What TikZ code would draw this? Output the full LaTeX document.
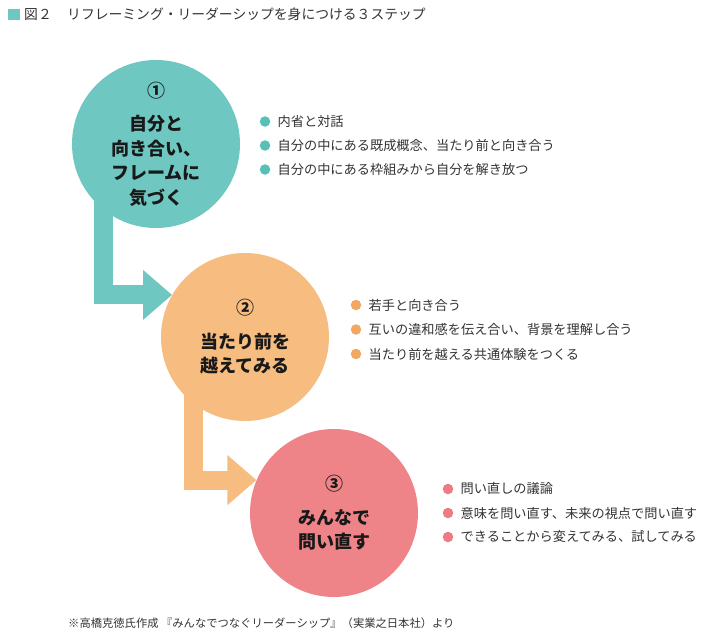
\documentclass[tikz,border=0pt]{standalone}
\usepackage{fontspec}
\setmainfont{Noto Sans CJK JP}
\usetikzlibrary{calc, positioning}
\usetikzlibrary{arrows.meta}

\definecolor{tealc}{HTML}{6FC7C2}
\definecolor{orangec}{HTML}{F6BC80}
\definecolor{pinkc}{HTML}{EF8488}
\definecolor{tealdot}{HTML}{58BFB7}
\definecolor{orangedot}{HTML}{F2A862}
\definecolor{pinkdot}{HTML}{EC7C82}
\definecolor{inkc}{HTML}{333333}

\begin{document}
\begin{tikzpicture}[x=1pt, y=-1pt,
  stepcircle/.style={circle, minimum size=168pt, inner sep=0pt, align=center,
    font=\fontsize{18}{24.5}\selectfont\bfseries, text=black!90},
  steparrow/.style={line width=19pt, -{Triangle[length=29pt, width=48pt]}},
  bulletdot/.style={circle, minimum size=10.5pt, inner sep=0pt},
  itemtext/.style={anchor=west, inner sep=0pt, font=\fontsize{13.2}{15}\selectfont, text=inkc}]
\useasboundingbox (0,0) rectangle (710,634);

% title
\fill[tealc] (8,9) rectangle (20,20);
\node[anchor=west, inner sep=0pt, font=\fontsize{13.8}{15}\selectfont, text=inkc] (fig) at (24,14.5) {図２};
\node[anchor=west, inner sep=0pt, font=\fontsize{13.8}{15}\selectfont, text=inkc] (title) at (67,14.5) {リフレーミング・リーダーシップを身につける３ステップ};

% connectors first, circles on top
\coordinate (s1) at (103.5,150);
\coordinate (s2) at (193.5,340);
\node[stepcircle] (c2) at (245,337) {};
\node[stepcircle] (c3) at (334,513) {};
\draw[steparrow, tealc] (s1) |- (c2.150);
\draw[steparrow, orangec] (s2) |- (c3.157);

\node[stepcircle, fill=tealc] (c1) at (156,144) {①\\[9pt]自分と\\向き合い、\\フレームに\\気づく};
\node[stepcircle, fill=orangec] at (c2) {②\\[9pt]当たり前を\\越えてみる};
\node[stepcircle, fill=pinkc] at (c3) {③\\[9pt]みんなで\\問い直す};

% bullet lists
\foreach \txt [count=\i] in {内省と対話, 自分の中にある既成概念、当たり前と向き合う, 自分の中にある枠組みから自分を解き放つ}{
  \node[bulletdot, fill=tealdot] (da\i) at (265,97.5+24*\i) {};
  \node[itemtext, right=7pt of da\i] (ta\i) {\txt};
}
\foreach \txt [count=\i] in {若手と向き合う, 互いの違和感を伝え合い、背景を理解し合う, 当たり前を越える共通体験をつくる}{
  \node[bulletdot, fill=orangedot] (db\i) at (356,280.5+24.5*\i) {};
  \node[itemtext, right=7pt of db\i] (tb\i) {\txt};
}
\foreach \txt [count=\i] in {問い直しの議論, 意味を問い直す、未来の視点で問い直す, できることから変えてみる、試してみる}{
  \node[bulletdot, fill=pinkdot] (dc\i) at (448,465+24*\i) {};
  \node[itemtext, right=7pt of dc\i] (tc\i) {\txt};
}

% source
\node[anchor=west, inner sep=0pt, font=\fontsize{11.3}{13}\selectfont, text=inkc] (src) at (68,623) {※高橋克徳氏作成 『みんなでつなぐリーダーシップ』（実業之日本社）より};
\end{tikzpicture}
\end{document}
